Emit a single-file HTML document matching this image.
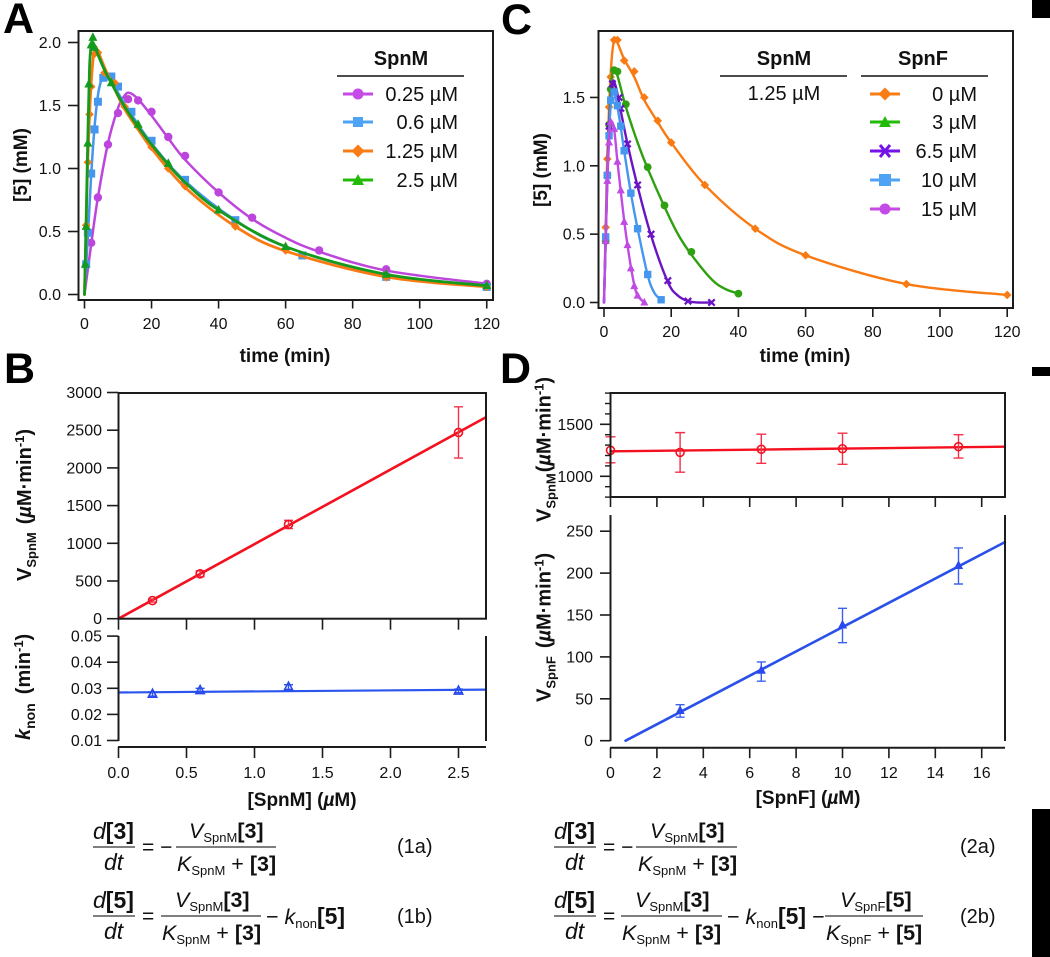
<!DOCTYPE html>
<html>
<head>
<meta charset="utf-8">
<title>SpnM and SpnF kinetics</title>
<style>
html,body{margin:0;padding:0;background:#fff;}
svg{display:block;font-family:"Liberation Sans",Arial,sans-serif;fill:#111;}
.tick{font-size:16px;}
.leg{font-size:20px;}
.ttl{font-size:19px;font-weight:bold;}
.panel{font-size:43px;font-weight:bold;fill:#000;}
.eq{font-size:21.5px;}
.b{font-weight:bold;}
.i{font-style:italic;}
.s{font-size:13px;}
</style>
</head>
<body>
<svg id="fig" width="1050" height="957" viewBox="0 0 1050 957" xmlns="http://www.w3.org/2000/svg">
<rect x="0" y="0" width="1050" height="957" fill="#fff"/>
<rect x="1032" y="0" width="18" height="18" fill="#000"/>
<rect x="1032" y="367" width="18" height="9" fill="#000"/>
<rect x="1032" y="809" width="18" height="148" fill="#000"/>

<text class="panel" x="3" y="33">A</text>
<text class="panel" x="501" y="34">C</text>
<text class="panel" x="4" y="383">B</text>
<text class="panel" x="500" y="383">D</text>

<g id="marks"></g>

<!-- axis titles -->
<text class="ttl" x="285" y="362" text-anchor="middle">time (min)</text>
<text class="ttl" x="805" y="362" text-anchor="middle">time (min)</text>
<text class="ttl" transform="translate(27,165) rotate(-90)" text-anchor="middle">[5] (mM)</text>
<text class="ttl" transform="translate(547,170) rotate(-90)" text-anchor="middle">[5] (mM)</text>
<text class="ttl" x="302" y="806" text-anchor="middle">[SpnM] (<tspan class="i">µ</tspan>M)</text>
<text class="ttl" x="808" y="804" text-anchor="middle">[SpnF] (<tspan class="i">µ</tspan>M)</text>
<text class="ttl" style="font-size:20px" transform="translate(31,581) rotate(-90)">V<tspan dy="5" style="font-size:13px">SpnM</tspan><tspan dy="-5" dx="8">(</tspan><tspan class="i">µ</tspan>M·min<tspan dy="-7" style="font-size:13px">-1</tspan><tspan dy="7">)</tspan></text>
<text class="ttl" style="font-size:20px" transform="translate(30,740) rotate(-90)"><tspan class="i">k</tspan><tspan dy="5" style="font-size:14px">non</tspan><tspan dy="-5" dx="9">(min</tspan><tspan dy="-7" style="font-size:13px">-1</tspan><tspan dy="7">)</tspan></text>
<text class="ttl" style="font-size:20px" transform="translate(550.500,522) rotate(-90)">V<tspan dy="5" style="font-size:13px">SpnM</tspan><tspan dy="-5" dx="1">(</tspan><tspan class="i">µ</tspan>M·min<tspan dy="-7" style="font-size:13px">-1</tspan><tspan dy="7">)</tspan></text>
<text class="ttl" style="font-size:20px" transform="translate(550.500,702) rotate(-90)">V<tspan dy="5" style="font-size:13px">SpnF</tspan><tspan dy="-5" dx="8">(</tspan><tspan class="i">µ</tspan>M·min<tspan dy="-7" style="font-size:13px">-1</tspan><tspan dy="7">)</tspan></text>

<!-- legend A -->
<g>
<text class="ttl" style="font-size:20px" x="401" y="65" text-anchor="middle">SpnM</text>
<line x1="337" x2="464" y1="76" y2="76" stroke="#111" stroke-width="1.6"/>
<g><line x1="343" x2="373" y1="94" y2="94" stroke="#c64ae6" stroke-width="3"/><circle cx="358" cy="94" r="5.5" fill="#c64ae6"/><text class="leg" x="458" y="101" text-anchor="end">0.25 µM</text></g>
<g><line x1="343" x2="373" y1="122" y2="122" stroke="#4ea3f5" stroke-width="3"/><rect x="353" y="117" width="10" height="10" fill="#4ea3f5"/><text class="leg" x="458" y="129" text-anchor="end">0.6 µM</text></g>
<g><line x1="343" x2="373" y1="151" y2="151" stroke="#f97d14" stroke-width="3"/><path d="M358 144.500 L364.500 151 L358 157.500 L351.500 151 Z" fill="#f97d14"/><text class="leg" x="458" y="158" text-anchor="end">1.25 µM</text></g>
<g><line x1="343" x2="373" y1="180" y2="180" stroke="#22bb08" stroke-width="3"/><path d="M358 174 L364 185 L352 185 Z" fill="#22bb08"/><text class="leg" x="458" y="187" text-anchor="end">2.5 µM</text></g>
</g>

<!-- legend C -->
<g>
<text class="ttl" style="font-size:20px" x="784" y="65" text-anchor="middle">SpnM</text>
<line x1="720" x2="847" y1="76" y2="76" stroke="#111" stroke-width="1.6"/>
<text class="leg" x="784" y="100" text-anchor="middle">1.25 µM</text>
<text class="ttl" style="font-size:20px" x="923" y="65" text-anchor="middle">SpnF</text>
<line x1="861" x2="988" y1="76" y2="76" stroke="#111" stroke-width="1.6"/>
<g><line x1="870" x2="900" y1="94" y2="94" stroke="#f97d14" stroke-width="3"/><path d="M885 87.500 L891.500 94 L885 100.500 L878.500 94 Z" fill="#f97d14"/><text class="leg" x="977" y="101" text-anchor="end">0 µM</text></g>
<g><line x1="870" x2="900" y1="122" y2="122" stroke="#22bb08" stroke-width="3"/><path d="M885 116 L891 127 L879 127 Z" fill="#22bb08"/><text class="leg" x="977" y="129" text-anchor="end">3 µM</text></g>
<g><line x1="870" x2="900" y1="151" y2="151" stroke="#7412e8" stroke-width="3"/><path d="M880 145 L890 157 M890 145 L880 157" stroke="#7412e8" stroke-width="3" fill="none"/><text class="leg" x="977" y="158" text-anchor="end">6.5 µM</text></g>
<g><line x1="870" x2="900" y1="180" y2="180" stroke="#4ea3f5" stroke-width="3"/><rect x="879" y="174" width="12" height="12" fill="#4ea3f5"/><text class="leg" x="977" y="187" text-anchor="end">10 µM</text></g>
<g><line x1="870" x2="900" y1="209" y2="209" stroke="#c64ae6" stroke-width="3"/><circle cx="885" cy="209" r="5.5" fill="#c64ae6"/><text class="leg" x="977" y="216" text-anchor="end">15 µM</text></g>
</g>

<!-- equation 1a -->
<g class="eq">
<text x="93" y="839" style="font-size:23px"><tspan class="i">d</tspan><tspan class="b">[3]</tspan></text>
<line x1="93" x2="135" y1="847" y2="847" stroke="#333" stroke-width="1.2"/>
<text x="104" y="870" class="i" style="font-size:23px">dt</text>
<text x="142" y="854" style="font-size:21px">= −</text>
<text x="189" y="838"><tspan class="i">V</tspan><tspan class="s" dy="4">SpnM</tspan><tspan class="b" dy="-4">[3]</tspan></text>
<line x1="176" x2="276" y1="847" y2="847" stroke="#333" stroke-width="1.2"/>
<text x="177" y="871"><tspan class="i">K</tspan><tspan class="s" dy="4">SpnM</tspan><tspan dy="-4"> + </tspan><tspan class="b">[3]</tspan></text>
<text x="397" y="853" style="font-size:20px">(1a)</text>
</g>
<!-- equation 1b -->
<g class="eq">
<text x="93" y="908" style="font-size:23px"><tspan class="i">d</tspan><tspan class="b">[5]</tspan></text>
<line x1="93" x2="135" y1="916" y2="916" stroke="#333" stroke-width="1.2"/>
<text x="104" y="939" class="i" style="font-size:23px">dt</text>
<text x="142" y="923" style="font-size:21px">=</text>
<text x="175" y="907"><tspan class="i">V</tspan><tspan class="s" dy="4">SpnM</tspan><tspan class="b" dy="-4">[3]</tspan></text>
<line x1="161" x2="261" y1="916" y2="916" stroke="#333" stroke-width="1.2"/>
<text x="162" y="940"><tspan class="i">K</tspan><tspan class="s" dy="4">SpnM</tspan><tspan dy="-4"> + </tspan><tspan class="b">[3]</tspan></text>
<text x="266" y="924">− <tspan class="i">k</tspan><tspan class="s" dy="4">non</tspan><tspan class="b" dy="-4" style="font-size:23px">[5]</tspan></text>
<text x="397" y="923" style="font-size:20px">(1b)</text>
</g>
<!-- equation 2a -->
<g class="eq">
<text x="554" y="839" style="font-size:23px"><tspan class="i">d</tspan><tspan class="b">[3]</tspan></text>
<line x1="554" x2="596" y1="847" y2="847" stroke="#333" stroke-width="1.2"/>
<text x="565" y="870" class="i" style="font-size:23px">dt</text>
<text x="603" y="854" style="font-size:21px">= −</text>
<text x="650" y="838"><tspan class="i">V</tspan><tspan class="s" dy="4">SpnM</tspan><tspan class="b" dy="-4">[3]</tspan></text>
<line x1="636" x2="737" y1="847" y2="847" stroke="#333" stroke-width="1.2"/>
<text x="638" y="871"><tspan class="i">K</tspan><tspan class="s" dy="4">SpnM</tspan><tspan dy="-4"> + </tspan><tspan class="b">[3]</tspan></text>
<text x="960" y="853" style="font-size:20px">(2a)</text>
</g>
<!-- equation 2b -->
<g class="eq">
<text x="554" y="908" style="font-size:23px"><tspan class="i">d</tspan><tspan class="b">[5]</tspan></text>
<line x1="554" x2="596" y1="916" y2="916" stroke="#333" stroke-width="1.2"/>
<text x="565" y="939" class="i" style="font-size:23px">dt</text>
<text x="603" y="923" style="font-size:21px">=</text>
<text x="635" y="907"><tspan class="i">V</tspan><tspan class="s" dy="4">SpnM</tspan><tspan class="b" dy="-4">[3]</tspan></text>
<line x1="621" x2="722" y1="916" y2="916" stroke="#333" stroke-width="1.2"/>
<text x="622" y="940"><tspan class="i">K</tspan><tspan class="s" dy="4">SpnM</tspan><tspan dy="-4"> + </tspan><tspan class="b">[3]</tspan></text>
<text x="727" y="924">− <tspan class="i">k</tspan><tspan class="s" dy="4">non</tspan><tspan class="b" dy="-4" style="font-size:23px">[5]</tspan> −</text>
<text x="840" y="907"><tspan class="i">V</tspan><tspan class="s" dy="4">SpnF</tspan><tspan class="b" dy="-4">[5]</tspan></text>
<line x1="825" x2="923" y1="916" y2="916" stroke="#333" stroke-width="1.2"/>
<text x="826" y="940"><tspan class="i">K</tspan><tspan class="s" dy="4">SpnF</tspan><tspan dy="-4"> + </tspan><tspan class="b">[5]</tspan></text>
<text x="960" y="923" style="font-size:20px">(2b)</text>
</g>
</svg>

<script>
// ---------- Panel A data ----------
var aTimeTicks = ['0','20','40','60','80','100','120'];
var aValueTicks = ['0.0','0.5','1.0','1.5','2.0'];
var aPurpleT = [2,4,7,10,13,16,20,25,30,40,50,70,90,120];
var aPurpleV = [0.41,0.77,1.19,1.44,1.55,1.54,1.45,1.25,1.10,0.81,0.61,0.35,0.20,0.085];
var aPurpleFitT = [0,2,4,7,10,12,13.5,16,20,25,30,40,50,60,70,90,120];
var aPurpleFitV = [0,0.40,0.77,1.20,1.48,1.58,1.60,1.55,1.42,1.24,1.07,0.81,0.60,0.45,0.34,0.19,0.085];
var aBlueT = [0.5,1,2,3,4,5.6,8,10,14,20,30,45,65,90,120];
var aBlueV = [0.24,0.49,0.96,1.31,1.53,1.72,1.73,1.65,1.45,1.22,0.91,0.59,0.31,0.14,0.06];
var aBlueFitT = [0,1,2,3,4,5,6,8,10,14,20,30,45,60,90,120];
var aBlueFitV = [0,0.46,0.95,1.33,1.58,1.70,1.74,1.70,1.60,1.43,1.20,0.90,0.59,0.38,0.15,0.065];
var aOrangeT = [0.5,1,1.5,2,3,4,6,9,12,16,20,25,30,45,60,90,120];
var aOrangeV = [0.55,1.05,1.43,1.65,1.91,1.92,1.76,1.68,1.49,1.33,1.17,1.00,0.86,0.54,0.35,0.135,0.06];
var aOrangeFitT = [0,0.5,1,2,3,4,6,9,12,16,20,30,45,60,90,120];
var aOrangeFitV = [0,0.55,1.08,1.68,1.95,1.93,1.80,1.63,1.47,1.31,1.16,0.85,0.54,0.345,0.14,0.06];
var aGreenT = [0.25,0.5,1,1.3,2,2.5,3,8,16,25,40,60,90,120];
var aGreenV = [0.24,0.54,1.20,1.67,1.98,2.04,1.96,1.68,1.35,1.04,0.67,0.38,0.16,0.07];
var aGreenFitT = [0,0.5,1,1.5,2,2.5,3,6,9,12,16,20,25,30,40,60,90,120];
var aGreenFitV = [0,0.60,1.25,1.80,1.98,2.00,1.97,1.78,1.63,1.49,1.33,1.19,1.03,0.89,0.67,0.38,0.16,0.07];

// ---------- Panel C data ----------
var cTimeTicks = ['0','20','40','60','80','100','120'];
var cValueTicks = ['0.0','0.5','1.0','1.5'];
var cOrangeT = [0.5,1,1.5,2,3,4,6,9,12,16,20,30,45,60,90,120];
var cOrangeV = [0.55,1.05,1.43,1.65,1.92,1.92,1.77,1.69,1.50,1.33,1.17,0.86,0.54,0.345,0.135,0.055];
var cOrangeFitT = [0,0.5,1,2,3,4,6,9,12,16,20,30,45,60,90,120];
var cOrangeFitV = [0,0.55,1.08,1.68,1.92,1.90,1.78,1.65,1.48,1.32,1.17,0.86,0.54,0.345,0.135,0.055];
var cGreenT = [0.5,1,1.5,2,3,4,6.5,13,18,26,40];
var cGreenV = [0.45,0.93,1.30,1.56,1.70,1.69,1.45,0.99,0.71,0.37,0.065];
var cGreenFitT = [0,0.5,1,2,3,4,6.5,10,13,18,22,26,32,36,40];
var cGreenFitV = [0,0.45,0.93,1.56,1.70,1.66,1.43,1.17,0.98,0.70,0.50,0.35,0.17,0.10,0.065];
var cPurpleT = [1,1.5,2.5,4.5,5,7,10,14,19,25,32];
var cPurpleV = [0.93,1.29,1.60,1.50,1.42,1.16,0.86,0.50,0.16,0.01,0];
var cPurpleFitT = [0,1,1.5,2.5,3.5,5,7,10,14,19,22,25,28,32];
var cPurpleFitV = [0,0.93,1.29,1.60,1.58,1.40,1.16,0.85,0.49,0.15,0.05,0.01,0,0];
var cBlueT = [0.5,1,1.5,2,3,4,5,6,8,10,13,17];
var cBlueV = [0.48,0.93,1.22,1.48,1.54,1.44,1.29,1.11,0.80,0.54,0.205,0.02];
var cBlueFitT = [0,0.5,1,2,3,4,5,6,8,10,13,15,17];
var cBlueFitV = [0,0.47,0.92,1.45,1.53,1.43,1.28,1.11,0.80,0.54,0.20,0.07,0.02];
var cMagentaT = [0.5,1,1.5,2,3,4,5,6,7,8,9,10,12];
var cMagentaV = [0.45,0.89,1.17,1.32,1.27,1.03,0.82,0.59,0.42,0.25,0.12,0.05,0];
var cMagentaFitT = [0,0.5,1,1.5,2,3,4,5,6,7,8,9,10,12];
var cMagentaFitV = [0,0.45,0.89,1.17,1.32,1.27,1.03,0.81,0.60,0.42,0.26,0.13,0.05,0];

// ---------- Panel B data ----------
var bConcTicks = ['0.0','0.5','1.0','1.5','2.0','2.5'];
var bRateTicks = ['0','500','1000','1500','2000','2500','3000'];
var bKnonTicks = ['0.01','0.02','0.03','0.04','0.05'];
var bConc = [0.25,0.6,1.25,2.5];
var bRate = [240,595,1250,2470];
var bRateErr = [20,40,55,340];
var bRateFitX = [0,2.7];
var bRateFitY = [0,2670];
var bKnon = [0.0278,0.0292,0.0305,0.029];
var bKnonErr = [0.0008,0.0008,0.0009,0.0007];
var bKnonFitX = [0,2.7];
var bKnonFitY = [0.0284,0.0295];

// ---------- Panel D data ----------
var dConcTicks = ['0','2','4','6','8','10','12','14','16'];
var dRateMTicks = ['1000','1500'];
var dRateMMinor = [800,900,1100,1200,1300,1400,1600,1700,1800];
var dRateFTicks = ['0','50','100','150','200','250'];
var dMConc = [0,3,6.5,10,15];
var dMRate = [1250,1230,1260,1265,1285];
var dMHigh = [1380,1420,1405,1415,1400];
var dMLow = [1130,1040,1125,1115,1175];
var dMFitX = [0,17];
var dMFitY = [1240,1285];
var dFConc = [3,6.5,10,15];
var dFRate = [36,84,138,209];
var dFHigh = [43,94,158,230];
var dFLow = [28,71,117,187];
var dFFitX = [0.65,17];
var dFFitY = [0,237];

// ---------- axis functions ----------
function xA(t){return 84.5+3.352*t;}
function yA(v){return 294.5-126*v;}
function xC(t){return 604+3.36*t;}
function yC(v){return 302.5-136.7*v;}
function xB(c){return 118.5+136*c;}
function yBR(r){return 618.7-0.0754*r;}
function yBK(k){return 766.6-2610*k;}
function xD(c){return 610.5+23.2*c;}
function yDM(r){return 476.3-0.104*(r-1000);}
function yDF(r){return 740.7-0.838*r;}

var NS='http://www.w3.org/2000/svg';
var root=document.getElementById('marks');
function mk(tag,attrs,text){
  var e=document.createElementNS(NS,tag);
  for(var k in attrs){e.setAttribute(k,attrs[k]);}
  if(text!==undefined){e.textContent=text;}
  root.appendChild(e);
  return e;
}
var AX='#1c1c1c';
function segment(x1,y1,x2,y2,w,name){
  var el=mk('line',{x1:x1,y1:y1,x2:x2,y2:y2,stroke:AX,'stroke-width':w});
  
  
}
function label(x,y,anchor,s,name){
  var el=mk('text',{x:x,y:y,'text-anchor':anchor,'class':'tick'},s);
  
  
}
function xTicks(labels,fx,y0,len,labelY,name){
  labels.forEach(function(s){
    var x=fx(parseFloat(s));
    segment(x,y0,x,y0+len,1.6,name+'-tick');
    if(labelY){label(x,labelY,'middle',s,name+'-tick-label');}
  });
}
function yTicks(labels,fy,x0,x1,textX,name){
  labels.forEach(function(s){
    var y=fy(parseFloat(s));
    segment(x1,y,x0,y,1.6,name+'-tick');
    label(textX,y+5.5,'end',s,name+'-tick-label');
  });
}
function spline(fx,fy,xs,ys){
  var p=xs.map(function(v,i){return [fx(v),fy(ys[i])];});
  var d='M'+p[0][0].toFixed(2)+' '+p[0][1].toFixed(2);
  for(var i=0;i<p.length-1;i++){
    var a=p[Math.max(i-1,0)],b=p[i],c=p[i+1],e=p[Math.min(i+2,p.length-1)];
    var c1=[b[0]+(c[0]-a[0])/6,b[1]+(c[1]-a[1])/6];
    var c2=[c[0]-(e[0]-b[0])/6,c[1]-(e[1]-b[1])/6];
    d+=' C'+c1[0].toFixed(2)+' '+c1[1].toFixed(2)+' '+c2[0].toFixed(2)+' '+c2[1].toFixed(2)+' '+c[0].toFixed(2)+' '+c[1].toFixed(2);
  }
  return d;
}
function curve(fx,fy,xs,ys,color,w,name){
  var el=mk('path',{d:spline(fx,fy,xs,ys),fill:'none',stroke:color,'stroke-width':w,'stroke-linejoin':'round','stroke-linecap':'round'});
  
  
}
function marker(shape,x,y,s,color,name,open){
  var fill=open?'none':color, st={stroke:color,'stroke-width':open?1.6:0,fill:fill};
  var el;
  if(shape==='circle'){st.cx=x;st.cy=y;st.r=s;el=mk('circle',st);}
  else if(shape==='square'){st.x=x-s;st.y=y-s;st.width=2*s;st.height=2*s;el=mk('rect',st);}
  else if(shape==='diamond'){st.d='M'+x+' '+(y-s)+'L'+(x+s)+' '+y+'L'+x+' '+(y+s)+'L'+(x-s)+' '+y+'Z';el=mk('path',st);}
  else if(shape==='triangle'){st.d='M'+x+' '+(y-s*1.15)+'L'+(x+s)+' '+(y+s*0.75)+'L'+(x-s)+' '+(y+s*0.75)+'Z';el=mk('path',st);}
  else {st.d='M'+(x-s)+' '+(y-s)+'L'+(x+s)+' '+(y+s)+'M'+(x+s)+' '+(y-s)+'L'+(x-s)+' '+(y+s);st['stroke-width']=2.2;st.fill='none';el=mk('path',st);}
  
  
}
function series(fx,fy,ts,vs,ft,fv,color,shape,s,w,name){
  curve(fx,fy,ft,fv,color,w,name+'-fit');
  ts.forEach(function(t,i){marker(shape,fx(t),fy(vs[i]),s,color,name+'-point',false);});
}
function errbars(fx,fy,xs,hi,lo,cap,color,name){
  xs.forEach(function(c,i){
    var x=fx(c),y1=fy(hi[i]),y2=fy(lo[i]);
    var el=mk('path',{d:'M'+x+' '+y1+'V'+y2+'M'+(x-cap)+' '+y1+'H'+(x+cap)+'M'+(x-cap)+' '+y2+'H'+(x+cap),fill:'none',stroke:color,'stroke-width':1.4});
    
    
  });
}
function frame(x,y,w,h,name){
  var el=mk('rect',{x:x,y:y,width:w,height:h,fill:'none',stroke:AX,'stroke-width':2});
  
  
}

// ---------- Panel A ----------
series(xA,yA,aPurpleT,aPurpleV,aPurpleFitT,aPurpleFitV,'#bd45dc','circle',4.2,2.5,'a-spnm-0-25');
series(xA,yA,aBlueT,aBlueV,aBlueFitT,aBlueFitV,'#4496ee','square',4,2.5,'a-spnm-0-6');
series(xA,yA,aOrangeT,aOrangeV,aOrangeFitT,aOrangeFitV,'#f97a12','diamond',4.3,2.8,'a-spnm-1-25');
series(xA,yA,aGreenT,aGreenV,aGreenFitT,aGreenFitV,'#149a1c','triangle',4.5,2.8,'a-spnm-2-5');
frame(78.500,31,414.500,269,'plot-frame-a');
xTicks(aTimeTicks,xA,300,8.500,329,'a-x');
yTicks(aValueTicks,yA,68,78.500,61,'a-y');

// ---------- Panel C ----------
series(xC,yC,cOrangeT,cOrangeV,cOrangeFitT,cOrangeFitV,'#f97a12','diamond',4.3,2.4,'c-spnf-0');
series(xC,yC,cGreenT,cGreenV,cGreenFitT,cGreenFitV,'#2fa012','circle',3.9,2.4,'c-spnf-3');
series(xC,yC,cPurpleT,cPurpleV,cPurpleFitT,cPurpleFitV,'#6a14c4','x',3.2,2.4,'c-spnf-6-5');
series(xC,yC,cBlueT,cBlueV,cBlueFitT,cBlueFitV,'#4496ee','square',3.7,2.4,'c-spnf-10');
series(xC,yC,cMagentaT,cMagentaV,cMagentaFitT,cMagentaFitV,'#c04ae4','triangle',4,2.4,'c-spnf-15');
frame(598.500,31,414.500,277,'plot-frame-c');
xTicks(cTimeTicks,xC,308,9,337,'c-x');
yTicks(cValueTicks,yC,590,598.500,585,'c-y');

// ---------- Panel B upper ----------
curve(xB,yBR,bRateFitX,bRateFitY,'#f4101e',2.6,'b-rate-fit');
errbars(xB,yBR,bConc,bRate.map(function(r,i){return r+bRateErr[i];}),bRate.map(function(r,i){return r-bRateErr[i];}),4.5,'#f4304a','b-rate-error-bar');
bConc.forEach(function(c,i){marker('circle',xB(c),yBR(bRate[i]),4,'#f4101e','b-rate-point',true);});
frame(118.500,393,367.500,225.700,'plot-frame-b-upper');
xTicks(bConcTicks,xB,618.700,11,0,'b-upper-x');
yTicks(bRateTicks,yBR,107,118.500,102,'b-upper-y');

// ---------- Panel B lower ----------
curve(xB,yBK,bKnonFitX,bKnonFitY,'#2a55ee',2.2,'b-knon-fit');
errbars(xB,yBK,bConc,bKnon.map(function(r,i){return r+bKnonErr[i];}),bKnon.map(function(r,i){return r-bKnonErr[i];}),4.5,'#2a55ee','b-knon-error-bar');
bConc.forEach(function(c,i){marker('triangle',xB(c),yBK(bKnon[i]),4.2,'#2a48ee','b-knon-point',true);});
segment(118.500,636,118.500,741,2,'b-lower-left-axis');
segment(486,636,486,741,2,'b-lower-right-axis');
segment(118,747,486,747,2,'b-lower-x-axis');
xTicks(bConcTicks,xB,747,11,778,'b-lower-x');
yTicks(bKnonTicks,yBK,107,118.500,102,'b-lower-y');

// ---------- Panel D upper ----------
curve(xD,yDM,dMFitX,dMFitY,'#f4101e',2.4,'d-spnm-rate-fit');
errbars(xD,yDM,dMConc,dMHigh,dMLow,5,'#f4304a','d-spnm-rate-error-bar');
dMConc.forEach(function(c,i){marker('circle',xD(c),yDM(dMRate[i]),4,'#f4101e','d-spnm-rate-point',true);});
frame(610.500,393,394.500,104,'plot-frame-d-upper');
xTicks(dConcTicks,xD,497,10,0,'d-upper-x');
yTicks(dRateMTicks,yDM,600,610.500,593,'d-upper-y');
dRateMMinor.forEach(function(r){segment(605,yDM(r),610.500,yDM(r),1.4,'d-upper-y-minor-tick');});

// ---------- Panel D lower ----------
curve(xD,yDF,dFFitX,dFFitY,'#2a50ea',2.6,'d-spnf-rate-fit');
errbars(xD,yDF,dFConc,dFHigh,dFLow,4.5,'#3a60f0','d-spnf-rate-error-bar');
dFConc.forEach(function(c,i){marker('triangle',xD(c),yDF(dFRate[i]),4.6,'#2a48ee','d-spnf-rate-point',false);});
segment(610.500,515,610.500,741,2,'d-lower-left-axis');
segment(1005,515,1005,741,2,'d-lower-right-axis');
segment(610,747.700,1005,747.700,2,'d-lower-x-axis');
xTicks(dConcTicks,xD,747.700,10.500,778,'d-lower-x');
yTicks(dRateFTicks,yDF,600,610.500,593,'d-lower-y');
</script>
</body>
</html>
